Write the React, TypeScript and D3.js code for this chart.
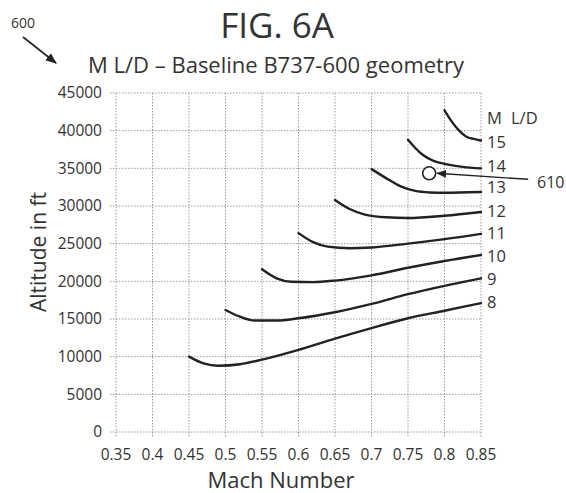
import React from "react";
import * as d3 from "d3";

const W = 566;
const H = 493;

const xTicks = [0.35, 0.4, 0.45, 0.5, 0.55, 0.6, 0.65, 0.7, 0.75, 0.8, 0.85];
const yTicks = [0, 5000, 10000, 15000, 20000, 25000, 30000, 35000, 40000, 45000];

type Pt = [number, number];

const ld8: Pt[] = [[0.45, 10000], [0.47, 9100], [0.49, 8800], [0.52, 9000], [0.55, 9600], [0.6, 10900], [0.65, 12400], [0.7, 13800], [0.75, 15100], [0.8, 16100], [0.85, 17100]];
const ld9: Pt[] = [[0.5, 16200], [0.52, 15300], [0.54, 14800], [0.57, 14800], [0.6, 15100], [0.65, 15900], [0.7, 17000], [0.75, 18300], [0.8, 19400], [0.85, 20400]];
const ld10: Pt[] = [[0.55, 21600], [0.57, 20400], [0.59, 19950], [0.62, 19900], [0.65, 20100], [0.7, 20800], [0.75, 21800], [0.8, 22700], [0.85, 23500]];
const ld11: Pt[] = [[0.6, 26400], [0.62, 25200], [0.64, 24600], [0.67, 24400], [0.7, 24500], [0.75, 25000], [0.8, 25600], [0.85, 26300]];
const ld12: Pt[] = [[0.65, 30800], [0.67, 29600], [0.69, 28900], [0.72, 28500], [0.75, 28400], [0.8, 28700], [0.85, 29200]];
const ld13: Pt[] = [[0.7, 34900], [0.72, 33700], [0.74, 32600], [0.76, 32000], [0.78, 31800], [0.8, 31750], [0.85, 31850]];
const ld14: Pt[] = [[0.75, 38800], [0.76, 37700], [0.77, 36800], [0.785, 36000], [0.8, 35600], [0.825, 35200], [0.85, 35000]];
const ld15: Pt[] = [[0.8, 42700], [0.81, 41200], [0.82, 40000], [0.83, 39200], [0.84, 38900], [0.85, 38700]];

const curves = [ld8, ld9, ld10, ld11, ld12, ld13, ld14, ld15];
const curveLabels = ["8", "9", "10", "11", "12", "13", "14", "15"];
const labelAlt = [17250, 20310, 23360, 26410, 29330, 32520, 35300, 38490];

const marker610: Pt = [0.779, 34340];

const FONT = "'Open Sans', 'DejaVu Sans', sans-serif";

export default function App() {
  const x = d3.scaleLinear().domain([0.35, 0.85]).range([116, 481]);
  const y = d3.scaleLinear().domain([0, 45000]).range([432, 93]);
  const line = d3
    .line<Pt>()
    .x((d) => x(d[0]))
    .y((d) => y(d[1]))
    .curve(d3.curveMonotoneX);

  const gridColor = "#9a9a9a";
  const textColor = "#333";
  const mx = x(marker610[0]);
  const my = y(marker610[1]);

  return (
    <div style={{ position: "fixed", left: 0, top: 0 }}>
      <svg width={W} height={H} style={{ display: "block", background: "#fff" }} fontFamily={FONT}>
        <defs>
          <marker id="ah" viewBox="0 0 10 10" refX="9" refY="5" markerWidth="7" markerHeight="7" orient="auto">
            <path d="M0,1 L10,5 L0,9 z" fill="#222" />
          </marker>
        </defs>
        <rect x={0} y={0} width={W} height={H} fill="#fff" />

        {/* title */}
        <text x={277} y={38} textAnchor="middle" fontSize={35} fill={textColor}>FIG. 6A</text>
        <text x={276} y={73} textAnchor="middle" fontSize={22} fill={textColor}>M L/D – Baseline B737-600 geometry</text>
        <text x={23} y={28} textAnchor="middle" fontSize={14} fill={textColor}>600</text>
        <line x1={23} y1={37} x2={56} y2={63} stroke="#222" strokeWidth={1.6} markerEnd="url(#ah)" />

        {/* grid */}
        {xTicks.map((t) => (
          <g key={"gx" + t}>
            <line x1={x(t)} x2={x(t)} y1={y(45000)} y2={y(0) + 6} stroke={gridColor} strokeWidth={1} strokeDasharray="1.5,1.5" />
            <text x={x(t)} y={y(0) + 28} textAnchor="middle" fontSize={15.5} fill={textColor}>{String(t)}</text>
          </g>
        ))}
        {yTicks.map((t) => (
          <g key={"gy" + t}>
            <line x1={x(0.35) - 6} x2={x(0.85)} y1={y(t)} y2={y(t)} stroke={gridColor} strokeWidth={1} strokeDasharray="1.5,1.5" />
            <text x={102} y={y(t)} dy="0.35em" textAnchor="end" fontSize={15.5} fill={textColor}>{t}</text>
          </g>
        ))}

        {/* axis titles */}
        <text transform={`translate(46,252) rotate(-90)`} textAnchor="middle" fontSize={21} fill={textColor}>Altitude in ft</text>
        <text x={281} y={488} textAnchor="middle" fontSize={22} fill={textColor}>Mach Number</text>

        {/* curves */}
        {curves.map((c, i) => (
          <path key={"c" + i} d={line(c) || ""} fill="none" stroke="#222" strokeWidth={2.4} strokeLinecap="round" />
        ))}

        {/* curve labels */}
        <text x={487} y={118} dy="0.35em" fontSize={16.5} fill={textColor}>M</text>
        <text x={511} y={118} dy="0.35em" fontSize={16.5} fill={textColor}>L/D</text>
        {curveLabels.map((l, i) => (
          <text key={"l" + l} x={487} y={y(labelAlt[i])} dy="0.35em" fontSize={16.5} fill={textColor}>{l}</text>
        ))}

        {/* 610 marker */}
        <circle cx={mx} cy={my} r={6.5} fill="#fff" stroke="#222" strokeWidth={1.6} />
        <line x1={mx + 99} y1={my + 6} x2={mx + 8} y2={my} stroke="#222" strokeWidth={1.4} markerEnd="url(#ah)" />
        <text x={537} y={my + 9} dy="0.35em" fontSize={16} fill={textColor}>610</text>
      </svg>
    </div>
  );
}
